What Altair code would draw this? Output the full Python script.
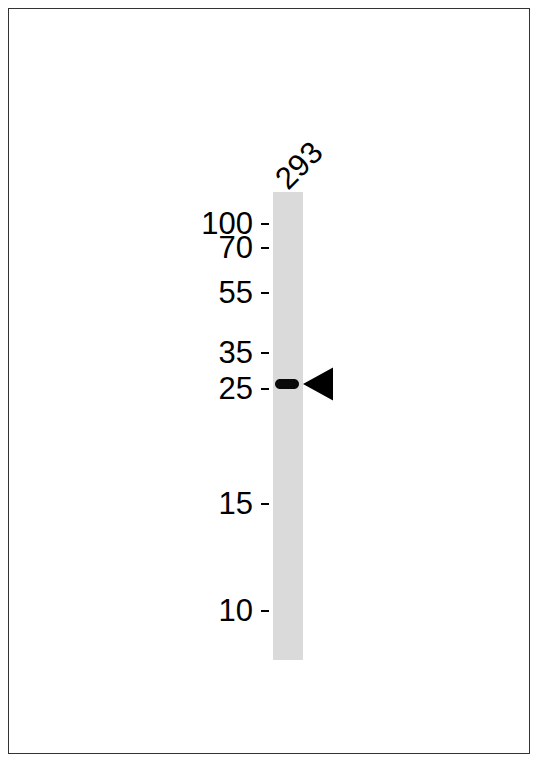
import altair as alt
import pandas as pd

# Molecular-weight markers (kDa) and their migration positions read from the blot (px from top)
marker_kda = ["100", "70", "55", "35", "25", "15", "10"]
marker_pos = [224, 248, 293, 353, 389, 504, 611]

# Lane
lane_names = ["293"]
lane_left = [273]
lane_right = [303]
lane_top = [192]
lane_bottom = [660]

# Detected band in the lane
band_center = [384]
band_left = [275]
band_right = [299]
band_half_height = [5]

XS = alt.Scale(domain=[8, 530])
YS = alt.Scale(domain=[8, 754], reverse=True)

FONT = "Liberation Sans"

lane_df = pd.DataFrame({"name": lane_names, "x": lane_left, "x2": lane_right,
                        "y": lane_top, "y2": lane_bottom})
band_df = pd.DataFrame({"x": band_left, "x2": band_right,
                        "y": [c - h for c, h in zip(band_center, band_half_height)],
                        "y2": [c + h for c, h in zip(band_center, band_half_height)],
                        "c": band_center})
marker_df = pd.DataFrame({"kda": marker_kda, "pos": marker_pos})

lane = alt.Chart(lane_df).mark_rect(color="#dadada").encode(
    x=alt.X("x:Q", scale=XS, axis=None), x2="x2:Q",
    y=alt.Y("y:Q", scale=YS, axis=None), y2="y2:Q")

band = alt.Chart(band_df).mark_rect(color="#0a0a0a", cornerRadius=5).encode(
    x=alt.X("x:Q", scale=XS, axis=None), x2="x2:Q",
    y=alt.Y("y:Q", scale=YS, axis=None), y2="y2:Q")

arrow_df = pd.DataFrame({"x": [r + 15 for r in lane_right], "y": band_center})
arrow = alt.Chart(arrow_df).mark_point(
    shape="M 1 -1.1 L -1 0 L 1 1.1 Z", size=900, filled=True,
    color="#000000", opacity=1, strokeWidth=0).encode(
    x=alt.X("x:Q", scale=XS, axis=None),
    y=alt.Y("y:Q", scale=YS, axis=None))

ticks = alt.Chart(marker_df).mark_rule(color="#000000", strokeWidth=2).encode(
    x=alt.value(261 - 8), x2=alt.value(269 - 8),
    y=alt.Y("pos:Q", scale=YS, axis=None))

labels = alt.Chart(marker_df).mark_text(
    align="right", baseline="middle", font=FONT, fontSize=31,
    color="#000000", dy=1).encode(
    x=alt.value(253 - 8),
    y=alt.Y("pos:Q", scale=YS, axis=None),
    text="kda:N")

lane_label = alt.Chart(lane_df).mark_text(
    align="left", baseline="alphabetic", angle=315, font=FONT,
    fontSize=31, color="#000000").encode(
    x=alt.value(288 - 8), y=alt.value(191 - 8), text="name:N")

chart = alt.layer(lane, band, arrow, ticks, labels, lane_label).properties(
    width=522, height=746, padding=0, autosize=alt.AutoSizeParams(type="none")
).configure_view(stroke="#333333", strokeWidth=2)

chart.save("out.html", embed_options={"renderer": "svg", "actions": False})
